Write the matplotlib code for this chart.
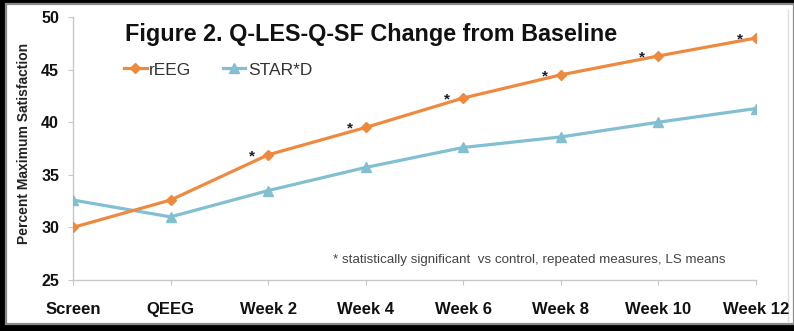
import matplotlib.pyplot as plt
from matplotlib.patches import Rectangle
from matplotlib.lines import Line2D

visits = ['Screen', 'QEEG', 'Week 2', 'Week 4', 'Week 6', 'Week 8', 'Week 10', 'Week 12']
reeg = [30.0, 32.6, 36.9, 39.5, 42.3, 44.5, 46.3, 48.0]
stard = [32.6, 31.0, 33.5, 35.7, 37.6, 38.6, 40.0, 41.3]
significant = [False, False, True, True, True, True, True, True]

orange = '#EE8A3F'
blue = '#82BFD1'

plt.rcParams['font.family'] = ['Liberation Sans', 'DejaVu Sans']

W, H = 794, 331
fig = plt.figure(figsize=(W / 100, H / 100), dpi=100, facecolor='black')

# white slide panel with grey edge on black background
panel = Rectangle((6 / W, 7 / H), (W - 6) / W, (H - 11) / H, transform=fig.transFigure,
                  facecolor='white', edgecolor='#8a8a8a', linewidth=1.6, zorder=-2)
fig.patches.append(panel)
fig.add_artist(Line2D([788 / W, 788 / W], [10 / H, 1 - 10 / H], transform=fig.transFigure,
                      color='#dddddd', linewidth=1.0, zorder=-1))

ax = fig.add_axes([73 / W, (H - 280) / H, (756 - 73) / W, (280 - 17) / H])
ax.set_facecolor('none')

x = list(range(len(visits)))
ax.plot(x, stard, color=blue, linewidth=2.3, marker='^', markersize=7, label='STAR*D', zorder=3)
ax.plot(x, reeg, color=orange, linewidth=2.3, marker='D', markersize=5.5, label='rEEG', zorder=4)

for xi, v, sig in zip(x, reeg, significant):
    if sig:
        ax.annotate('*', (xi, v), xytext=(-11.5, -1), textcoords='offset points',
                    ha='center', va='center', fontsize=11, fontweight='bold', color='#1a1a2a')

ax.set_xlim(0, 7)
ax.set_ylim(25, 50)
ax.set_yticks([25, 30, 35, 40, 45, 50])
ax.set_xticks(x)
ax.set_xticklabels(visits, fontsize=12, fontweight='bold')
for lbl in ax.get_yticklabels():
    lbl.set_fontsize(11.5)
    lbl.set_fontweight('bold')

for side in ['top', 'right']:
    ax.spines[side].set_visible(False)
for side in ['left', 'bottom']:
    ax.spines[side].set_color('#c8c8c8')
    ax.spines[side].set_linewidth(1.0)
ax.tick_params(axis='y', direction='out', length=3.5, color='#c8c8c8', pad=6.5, labelcolor='#111111')
ax.tick_params(axis='x', direction='out', length=3.5, color='#c8c8c8', pad=12, labelcolor='#111111')

ax.set_ylabel('Percent Maximum Satisfaction', fontsize=10, fontweight='bold', color='#222222')
ax.yaxis.set_label_coords((31 - 73) / 683, 0.52)

fig.text(125 / W, 1 - 35 / H, 'Figure 2. Q-LES-Q-SF Change from Baseline',
         fontsize=16.8, fontweight='bold', color='#111111', ha='left', va='center')

handles, labels = ax.get_legend_handles_labels()
ax.legend(handles[::-1], labels[::-1], loc='center left', bbox_to_anchor=((124 - 73) / 683, (280 - 70) / 263),
          ncol=2, frameon=False, fontsize=12.5, handlelength=1.3, handletextpad=0.15,
          columnspacing=1.8, borderpad=0, borderaxespad=0, labelcolor='#333333')

ax.text((333 - 73) / 683, (280 - 260) / 263,
        '* statistically significant  vs control, repeated measures, LS means',
        transform=ax.transAxes, fontsize=9.6, color='#444444', ha='left', va='center')

fig.savefig('out.png', dpi=100, facecolor=fig.get_facecolor())
